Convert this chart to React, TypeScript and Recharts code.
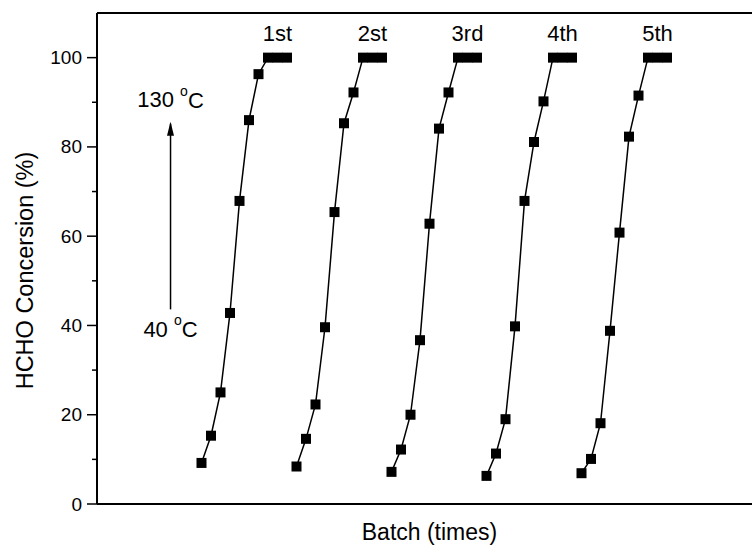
import React from 'react';
import { ComposedChart, Scatter, XAxis, YAxis, ReferenceLine } from 'recharts';

// Temperature steps (40 °C .. 130 °C) within every batch
const temps = [40, 50, 60, 70, 80, 90, 100, 110, 120, 130];
const batchLabels = ['1st', '2st', '3rd', '4th', '5th'];

// HCHO conversion (%) per batch, one value per temperature step
const batch1 = [9.2, 15.3, 25.0, 42.8, 67.9, 86.0, 96.3, 100, 100, 100];
const batch2 = [8.4, 14.6, 22.3, 39.6, 65.4, 85.3, 92.2, 100, 100, 100];
const batch3 = [7.2, 12.2, 20.0, 36.7, 62.8, 84.1, 92.2, 100, 100, 100];
const batch4 = [6.3, 11.3, 19.0, 39.8, 67.9, 81.1, 90.2, 100, 100, 100];
const batch5 = [6.9, 10.1, 18.1, 38.8, 60.8, 82.3, 91.5, 100, 100, 100];
const batches = [batch1, batch2, batch3, batch4, batch5];

const yTicks = [0, 10, 20, 30, 40, 50, 60, 70, 80, 90, 100];

const FONT = "'Liberation Sans', Arial, Helvetica, sans-serif";

const seriesData = batches.map((vals, b) =>
  vals.map((v, i) => ({ x: b * temps.length + i, y: v, t: temps[i] }))
);

const labelData = batchLabels.map((lab, b) => ({ x: b * temps.length + 8, y: 105.4, label: lab }));

const arrowX = -3.26;
const arrowData = [
  { x: arrowX, y: 43.6, head: false },
  { x: arrowX, y: 85.2, head: true },
];
const tempLabelData = [
  { x: arrowX, y: 90.6, label: String(temps[temps.length - 1]) },
  { x: arrowX, y: 39.1, label: String(temps[0]) },
];

const Square = (props: any) => {
  const { cx, cy } = props;
  if (cx == null || cy == null) return null;
  return <rect x={cx - 5} y={cy - 5} width={10} height={10} fill="#000" />;
};

const BatchLabel = (props: any) => {
  const { cx, cy, payload } = props;
  return (
    <text x={cx} y={cy} textAnchor="middle" dominantBaseline="central" fontSize={22} fontFamily={FONT} fill="#000">
      {payload.label}
    </text>
  );
};

const TempLabel = (props: any) => {
  const { cx, cy, payload } = props;
  return (
    <text x={cx} y={cy} textAnchor="middle" dominantBaseline="central" fontSize={22} fontFamily={FONT} fill="#000">
      {payload.label + ' '}
      <tspan dy={-9} fontSize={14}>o</tspan>
      <tspan dy={9}>C</tspan>
    </text>
  );
};

const ArrowHead = (props: any) => {
  const { cx, cy, payload } = props;
  if (!payload || !payload.head) return <g />;
  return <polygon points={`${cx},${cy - 2} ${cx - 3.5},${cy + 12} ${cx + 3.5},${cy + 12}`} fill="#000" />;
};

const YTick = (props: any) => {
  const { x, y, payload } = props;
  const v = payload.value;
  const major = v % 20 === 0;
  return (
    <g>
      <line x1={major ? x + 5 : x + 10} x2={x + 15} y1={y} y2={y} stroke="#000" strokeWidth={1.5} />
      {major && (
        <text x={x} y={y} textAnchor="end" dominantBaseline="central" fontSize={19} fontFamily={FONT} fill="#000">
          {v}
        </text>
      )}
    </g>
  );
};

const YTitle = (props: any) => {
  const vb = props.viewBox || { x: 0, y: 13, width: 97, height: 491 };
  const cx = vb.x + 25;
  const cy = vb.y + vb.height / 2 + 12;
  return (
    <text x={cx} y={cy} transform={`rotate(-90 ${cx} ${cy})`} textAnchor="middle" dominantBaseline="central" fontSize={23.5} fontFamily={FONT} fill="#000">
      HCHO Concersion (%)
    </text>
  );
};

const XTitle = (props: any) => {
  const vb = props.viewBox || { x: 97, y: 504, width: 665, height: 42 };
  const cx = vb.x + vb.width / 2;
  const cy = vb.y + 28;
  return (
    <text x={cx} y={cy} textAnchor="middle" dominantBaseline="central" fontSize={23} fontFamily={FONT} fill="#000">
      Batch (times)
    </text>
  );
};

export default function App() {
  return (
    <div style={{ position: 'absolute', left: 0, top: 0, width: 752, height: 546, overflow: 'hidden', background: '#fff' }}>
      <ComposedChart width={772} height={546} margin={{ top: 13, right: 10, bottom: 0, left: 0 }}>
        <XAxis
          type="number"
          dataKey="x"
          domain={[-11, 59]}
          allowDataOverflow
          tick={false}
          tickLine={false}
          axisLine={{ stroke: '#000', strokeWidth: 2 }}
          height={42}
          label={XTitle}
        />
        <YAxis
          type="number"
          dataKey="y"
          domain={[0, 110]}
          allowDataOverflow
          ticks={yTicks}
          interval={0}
          tick={YTick}
          tickLine={false}
          tickSize={10}
          tickMargin={5}
          axisLine={{ stroke: '#000', strokeWidth: 2 }}
          width={97}
          label={YTitle}
        />
        <ReferenceLine y={110} stroke="#000" strokeWidth={2} ifOverflow="visible" />
        {seriesData.map((d, i) => (
          <Scatter
            key={i}
            data={d}
            shape={Square}
            line={{ stroke: '#000', strokeWidth: 1.5 }}
            isAnimationActive={false}
          />
        ))}
        <Scatter data={labelData} shape={BatchLabel} isAnimationActive={false} />
        <Scatter data={arrowData} shape={ArrowHead} line={{ stroke: '#000', strokeWidth: 1.5 }} isAnimationActive={false} />
        <Scatter data={tempLabelData} shape={TempLabel} isAnimationActive={false} />
      </ComposedChart>
    </div>
  );
}
